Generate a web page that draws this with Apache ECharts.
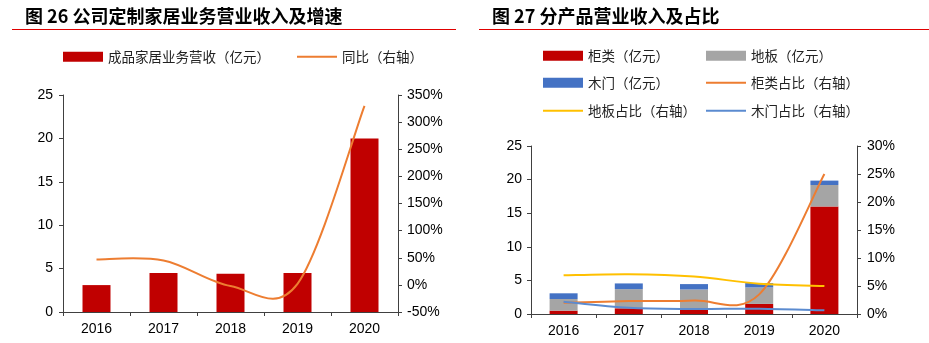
<!DOCTYPE html>
<html>
<head>
<meta charset="utf-8">
<script src="https://cdn.jsdelivr.net/npm/echarts@6/dist/echarts.min.js"></script>
<style>
html,body{margin:0;padding:0;background:#fff;}
#c{width:929px;height:343px;}
</style>
</head>
<body>
<div id="c"></div>
<script>
// ---- Chart 1 data ----
const years = ['2016', '2017', '2018', '2019', '2020'];
const homeRevenue = [3.1, 4.5, 4.4, 4.5, 20.0];          // 成品家居业务营收（亿元）
const homeYoY = [47, 45, -2, 2, 330];                     // 同比（%）
const leftTicks1 = { min: 0, max: 25, interval: 5 };
const rightTicks1 = { min: -50, max: 350, interval: 50 };

// ---- Chart 2 data ----
const cabinetRev = [0.5, 0.85, 0.7, 1.5, 16.0];           // 柜类（亿元）
const floorRev = [1.73, 2.85, 2.95, 2.45, 3.2];           // 地板（亿元）
const doorRev = [0.85, 0.85, 0.8, 0.65, 0.65];            // 木门（亿元）
const cabinetShare = [2.0, 2.3, 2.4, 3.5, 25.0];          // 柜类占比（%）
const floorShare = [6.9, 7.1, 6.7, 5.4, 5.0];             // 地板占比（%）
const doorShare = [2.2, 1.1, 0.9, 0.95, 0.65];            // 木门占比（%）
const leftTicks2 = { min: 0, max: 25, interval: 5 };
const rightTicks2 = { min: 0, max: 30, interval: 5 };

const RED = '#C00000', GRAY = '#A5A5A5', BLUE = '#4472C4',
      ORANGE = '#ED7D31', YELLOW = '#FFC000', LBLUE = '#5B8BD0';
const AX = '#404040';
const numFont = 'Liberation Sans, Arial, sans-serif';
const cjkFont = 'Noto Sans CJK SC, sans-serif';

function valAxis(grid, t, pos, fmt, margin) {
  return {
    type: 'value', gridIndex: grid, position: pos,
    min: t.min, max: t.max, interval: t.interval,
    axisLine: { show: true, lineStyle: { color: AX, width: 1 } },
    axisTick: { show: true, inside: false, length: 4, lineStyle: { color: AX } },
    splitLine: { show: false },
    axisLabel: { color: '#000', fontFamily: numFont, fontSize: 14, margin: margin, formatter: fmt }
  };
}
function catAxis(grid) {
  return {
    type: 'category', gridIndex: grid, data: years,
    axisLine: { show: true, lineStyle: { color: AX, width: 1 } },
    axisTick: { show: true, alignWithLabel: false, length: 4, lineStyle: { color: AX } },
    axisLabel: { color: '#000', fontFamily: numFont, fontSize: 14, margin: 10 }
  };
}
const legendText = { color: '#222', fontFamily: cjkFont, fontSize: 13.5 };
function leg(name, left, top, isLine) {
  return {
    data: [{ name: name, icon: 'rect' }], left: left, top: top, orient: 'horizontal',
    itemWidth: 40, itemHeight: isLine ? 2 : 10, itemGap: 5,
    textStyle: legendText, selectedMode: false, padding: 0
  };
}

// Excel-style smoothed line (Catmull-Rom bezier) drawn through the axis scales
function smoothLine(name, values, xi, yi, color) {
  return {
    name: name, type: 'custom', xAxisIndex: xi, yAxisIndex: yi,
    data: values.map((v, i) => [i, v]),
    encode: { x: 0, y: 1 },
    itemStyle: { color: color },
    z: 5,
    renderItem: function (params, api) {
      if (params.dataIndexInside !== 0) return null;
      const pts = values.map((v, i) => api.coord([i, v]));
      const n = pts.length;
      let d = 'M' + pts[0][0] + ' ' + pts[0][1];
      for (let i = 0; i < n - 1; i++) {
        const p0 = pts[Math.max(0, i - 1)], p1 = pts[i], p2 = pts[i + 1], p3 = pts[Math.min(n - 1, i + 2)];
        const c1x = p1[0] + (p2[0] - p0[0]) / 6, c1y = p1[1] + (p2[1] - p0[1]) / 6;
        const c2x = p2[0] - (p3[0] - p1[0]) / 6, c2y = p2[1] - (p3[1] - p1[1]) / 6;
        d += ' C' + c1x + ' ' + c1y + ' ' + c2x + ' ' + c2y + ' ' + p2[0] + ' ' + p2[1];
      }
      return {
        type: 'path',
        shape: { pathData: d },
        style: { fill: null, stroke: color, lineWidth: 2, lineJoin: 'round', lineCap: 'butt' }
      };
    }
  };
}

const option = {
  animation: false,
  backgroundColor: '#fff',
  title: [
    { text: '图 26 公司定制家居业务营业收入及增速', left: 25, top: 7, padding: 0,
      textStyle: { fontFamily: cjkFont, fontSize: 18, fontWeight: 'bold', color: '#000' } },
    { text: '图 27 分产品营业收入及占比', left: 492, top: 7, padding: 0,
      textStyle: { fontFamily: cjkFont, fontSize: 18, fontWeight: 'bold', color: '#000' } }
  ],
  graphic: [
    { type: 'line', shape: { x1: 12, y1: 29.5, x2: 456, y2: 29.5 }, style: { stroke: '#E00000', lineWidth: 1 } },
    { type: 'line', shape: { x1: 479, y1: 29.5, x2: 929, y2: 29.5 }, style: { stroke: '#E00000', lineWidth: 1 } }
  ],
  legend: [
    leg('成品家居业务营收（亿元）', 63, 50, false),
    leg('同比（右轴）', 297, 50, true),
    leg('柜类（亿元）', 543, 49, false),
    leg('地板（亿元）', 706, 49, false),
    leg('木门（亿元）', 543, 76, false),
    leg('柜类占比（右轴）', 706, 76, true),
    leg('地板占比（右轴）', 543, 104, true),
    leg('木门占比（右轴）', 706, 104, true)
  ],
  grid: [
    { left: 63, top: 95, width: 335, height: 217, containLabel: false },
    { left: 531, top: 146, width: 326, height: 168, containLabel: false }
  ],
  xAxis: [catAxis(0), catAxis(1)],
  yAxis: [
    valAxis(0, leftTicks1, 'left', '{value}', 10),
    valAxis(0, rightTicks1, 'right', '{value}%', 9),
    valAxis(1, leftTicks2, 'left', '{value}', 9),
    valAxis(1, rightTicks2, 'right', '{value}%', 10)
  ],
  series: [
    { name: '成品家居业务营收（亿元）', type: 'bar', xAxisIndex: 0, yAxisIndex: 0,
      data: homeRevenue, barWidth: 28, itemStyle: { color: RED } },
    smoothLine('同比（右轴）', homeYoY, 0, 1, ORANGE),

    { name: '柜类（亿元）', type: 'bar', stack: 'rev', xAxisIndex: 1, yAxisIndex: 2,
      data: cabinetRev, barWidth: 28, itemStyle: { color: RED } },
    { name: '地板（亿元）', type: 'bar', stack: 'rev', xAxisIndex: 1, yAxisIndex: 2,
      data: floorRev, barWidth: 28, itemStyle: { color: GRAY } },
    { name: '木门（亿元）', type: 'bar', stack: 'rev', xAxisIndex: 1, yAxisIndex: 2,
      data: doorRev, barWidth: 28, itemStyle: { color: BLUE } },
    smoothLine('柜类占比（右轴）', cabinetShare, 1, 3, ORANGE),
    smoothLine('地板占比（右轴）', floorShare, 1, 3, YELLOW),
    smoothLine('木门占比（右轴）', doorShare, 1, 3, LBLUE)
  ]
};

const chart = echarts.init(document.getElementById('c'), null, { renderer: 'canvas' });
chart.setOption(option);
</script>
</body>
</html>
